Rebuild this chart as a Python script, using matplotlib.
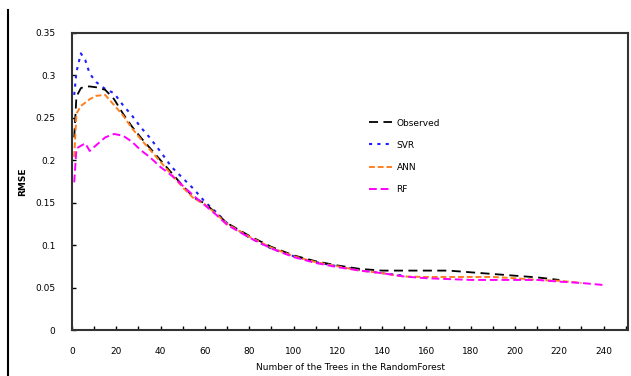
import numpy as np
import matplotlib
matplotlib.use("Agg")
import matplotlib.pyplot as plt
from matplotlib.lines import Line2D

nan = np.nan
trees = [1, 2, 4, 6, 8, 11, 15, 19, 23, 27, 31, 35, 40, 45, 50, 55, 60, 65, 70,
         80, 90, 100, 110, 120, 130, 140, 150, 160, 170, 180, 190, 200, 210, 220, 230, 240]

observed = [0.227, 0.275, 0.285, 0.287, 0.287, 0.286, 0.283, 0.272, 0.255, 0.240, 0.227, 0.215,
            0.200, 0.185, 0.170, 0.156, 0.149, 0.138, 0.126, 0.111, 0.098, 0.088, 0.081, 0.076,
            0.072, 0.070, 0.070, 0.070, 0.070, 0.068, 0.066, 0.064, 0.062, 0.059, nan, nan]
series_b = [0.277, 0.304, 0.326, 0.318, 0.302, 0.292, 0.284, 0.279, 0.265, 0.253, 0.239, 0.227,
            0.210, 0.192, 0.179, 0.166, 0.151, 0.139, 0.126, 0.109, 0.096, 0.087, 0.080, 0.075,
            0.071, 0.067, 0.064, nan, nan, nan, nan, nan, nan, nan, nan, nan]
series_c = [0.204, 0.255, 0.264, 0.268, 0.272, 0.276, 0.277, 0.265, 0.253, 0.238, 0.225, 0.213,
            0.198, 0.183, 0.168, 0.155, 0.148, 0.137, 0.125, 0.110, 0.097, 0.087, 0.080, 0.075,
            0.070, 0.067, 0.063, 0.0625, 0.0625, 0.0625, 0.0625, 0.061, 0.059, 0.058, 0.0555, nan]
series_d = [0.174, 0.214, 0.217, 0.220, 0.211, 0.218, 0.227, 0.231, 0.229, 0.222, 0.212, 0.204,
            0.192, 0.182, 0.170, 0.158, 0.147, 0.136, 0.124, 0.109, 0.096, 0.086, 0.079, 0.074,
            0.070, 0.067, 0.063, 0.061, 0.060, 0.059, 0.059, 0.059, 0.059, 0.057, 0.0554, 0.053]

labels = ["Observed", "SVR", "ANN", "RF"]
xticks = list(range(0, 241, 20))
yticks = [0, 0.05, 0.1, 0.15, 0.2, 0.25, 0.3, 0.35]

fig = plt.figure(figsize=(6.31, 3.76), dpi=100)
ax = fig.add_axes([72/631, 46/376, 556/631, 297/376])

ax.plot(trees, series_b, color="#1f1fff", ls=(0, (1.5, 2.5)), lw=1.5, label=labels[1])
ax.plot(trees, observed, color="black", ls=(0, (5, 3)), lw=1.3, label=labels[0])
ax.plot(trees, series_c, color="#ff7f1e", ls=(0, (3, 1.5)), lw=1.4, label=labels[2])
ax.plot(trees, series_d, color="#ff00ff", ls=(0, (4, 2)), lw=1.4, label=labels[3])

ax.set_xlim(0, 251)
ax.set_ylim(0, 0.35)
ax.set_xticks(xticks)
ax.set_xticks(list(range(0, 251, 10)), minor=True)
ax.set_yticks(yticks)
ax.set_yticklabels([("%g" % v) for v in yticks])
ax.tick_params(axis="both", direction="in", labelsize=6.5, length=3, width=1, pad=12)
ax.tick_params(axis="both", which="minor", direction="in", length=3, width=1)
for s in ax.spines.values():
    s.set_linewidth(1.5)
    s.set_color("#333333")

ax.set_xlabel("Number of the Trees in the RandomForest", fontsize=6.5, labelpad=5)
ax.set_ylabel("RMSE", fontsize=6.5, fontweight="bold", labelpad=6)

handles, labs = ax.get_legend_handles_labels()
order = [1, 0, 2, 3]
fig.legend([handles[i] for i in order], [labs[i] for i in order],
           loc="upper left", bbox_to_anchor=(364/631, 1 - 114/376), frameon=False,
           fontsize=6.5, handlelength=2.6, labelspacing=1.45, borderpad=0, handletextpad=0.5)

fig.add_artist(Line2D([8/631, 8/631], [0, 1 - 10/376], color="black", lw=1.5))

fig.savefig("out.png", dpi=100)
